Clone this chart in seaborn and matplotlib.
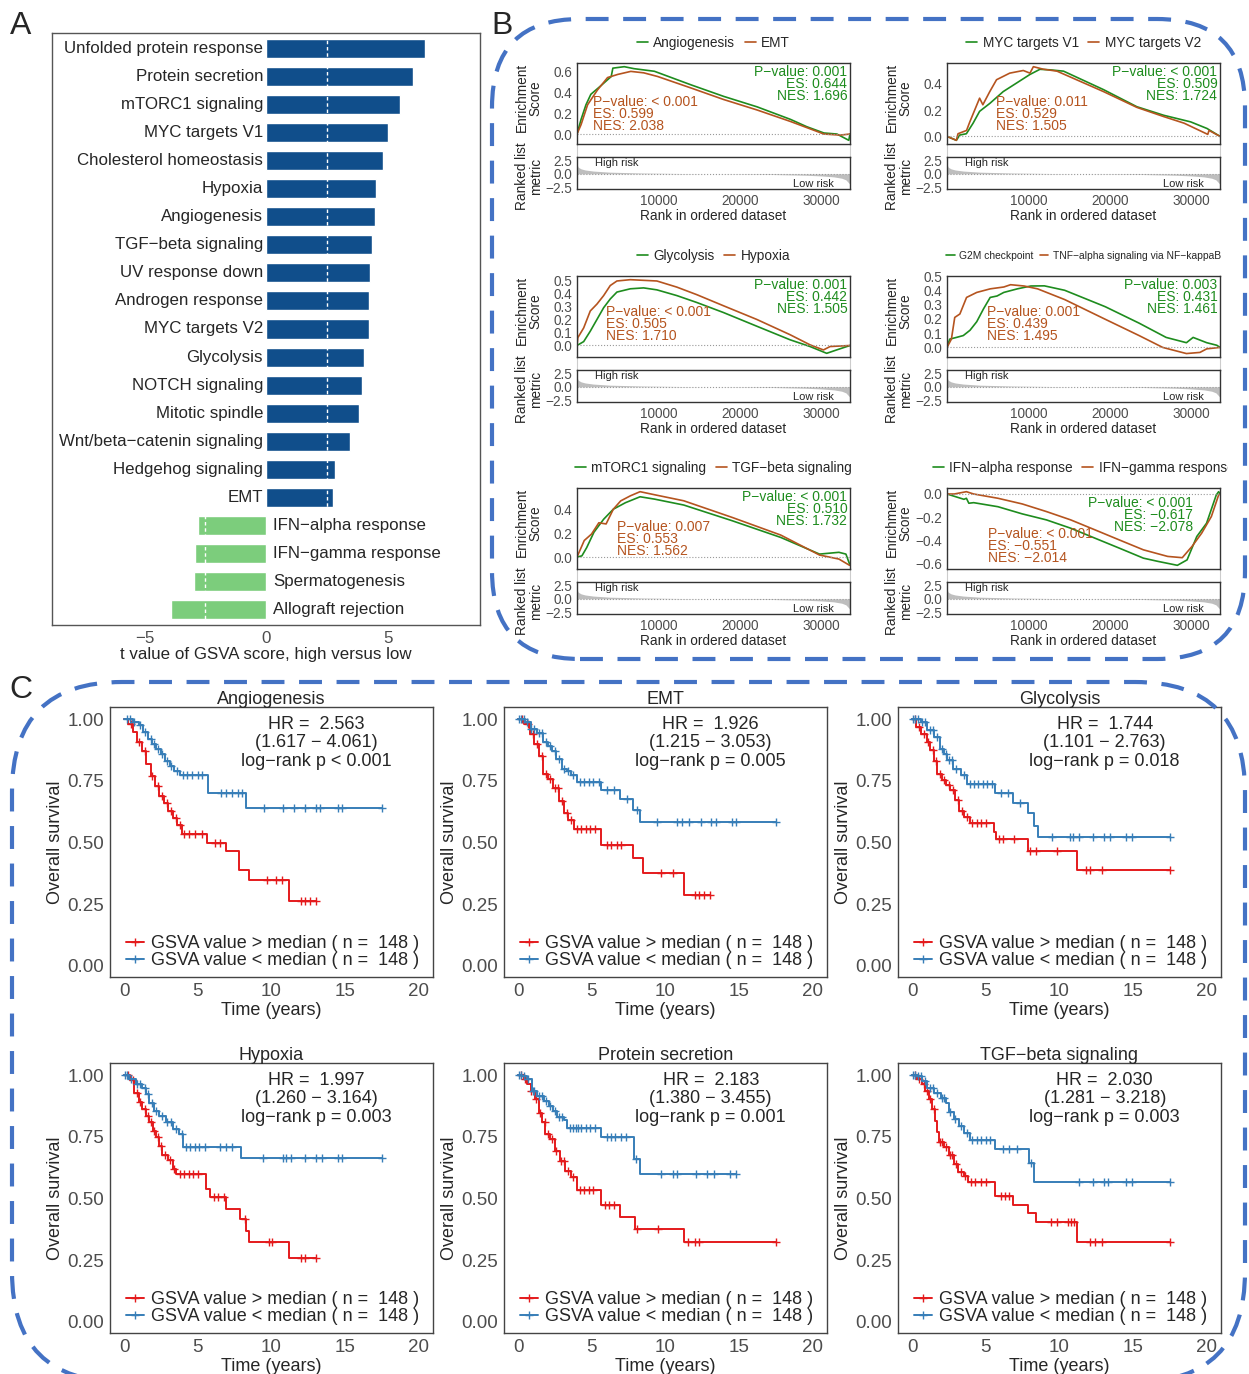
import numpy as np
import matplotlib
matplotlib.use("Agg")
import matplotlib.pyplot as plt
from matplotlib.patches import FancyBboxPatch
from matplotlib.lines import Line2D
from matplotlib.transforms import Bbox
import seaborn as sns

W, H = 1249, 1374

# ---------------- panel A: t values of GSVA score ----------------
pathways = ["Unfolded protein response", "Protein secretion", "mTORC1 signaling",
            "MYC targets V1", "Cholesterol homeostasis", "Hypoxia", "Angiogenesis",
            "TGF\u2212beta signaling", "UV response down", "Androgen response",
            "MYC targets V2", "Glycolysis", "NOTCH signaling", "Mitotic spindle",
            "Wnt/beta\u2212catenin signaling", "Hedgehog signaling", "EMT",
            "IFN\u2212alpha response", "IFN\u2212gamma response", "Spermatogenesis",
            "Allograft rejection"]
t_values = [6.52, 6.04, 5.49, 5.00, 4.82, 4.51, 4.47, 4.34, 4.26, 4.22, 4.22,
            4.04, 3.96, 3.81, 3.44, 2.84, 2.75, -2.79, -2.93, -2.97, -3.90]

# ---------------- panel B: running enrichment scores ----------------
angio_rank = [0, 500, 1100, 1700, 2900, 4200, 4400, 5800, 7000, 9500, 14000, 18000, 22100, 26200, 28200, 30300, 31900, 33350, 33500]
angio_es = [0, 0.14, 0.28, 0.38, 0.46, 0.55, 0.63, 0.644, 0.625, 0.60, 0.47, 0.36, 0.26, 0.14, 0.07, 0.01, 0.0, -0.06, 0.0]
emt_rank = [0, 500, 1300, 2500, 3750, 5000, 6600, 8200, 9900, 14000, 18000, 22100, 26200, 30300, 32300, 33500]
emt_es = [0, 0.09, 0.28, 0.42, 0.54, 0.57, 0.599, 0.585, 0.55, 0.44, 0.33, 0.23, 0.12, 0.0, -0.01, 0.0]

mycv1_rank = [0, 1150, 1560, 2380, 3200, 4000, 5250, 6900, 8540, 10180, 11400, 12650, 14300, 19200, 23300, 26600, 29900, 31900, 33500]
mycv1_es = [0, -0.03, 0.01, 0.02, 0.10, 0.19, 0.25, 0.34, 0.405, 0.47, 0.509, 0.505, 0.495, 0.355, 0.225, 0.16, 0.11, 0.06, 0.0]
mycv2_rank = [0, 1150, 1350, 2400, 2800, 4000, 4400, 5250, 6080, 7700, 9360, 10180, 10600, 11800, 13500, 19200, 23300, 26600, 29100, 32000, 32150, 33500]
mycv2_es = [0, -0.03, 0.02, 0.045, 0.11, 0.29, 0.24, 0.34, 0.43, 0.48, 0.50, 0.48, 0.529, 0.51, 0.495, 0.34, 0.22, 0.15, 0.10, 0.015, 0.045, 0.0]

glyco_rank = [0, 820, 1630, 2450, 3270, 4080, 4900, 6540, 8170, 9800, 12250, 14700, 17970, 22060, 26140, 28600, 30640, 31860, 33500]
glyco_es = [0, 0.03, 0.11, 0.20, 0.29, 0.357, 0.41, 0.435, 0.442, 0.427, 0.383, 0.33, 0.253, 0.148, 0.044, -0.008, -0.06, -0.034, 0.0]
hypoxia_rank = [0, 100, 820, 1630, 2450, 3270, 4080, 4900, 6540, 8170, 9800, 12250, 14700, 17970, 22060, 26140, 28600, 30240, 31050, 33500]
hypoxia_es = [0, 0.06, 0.135, 0.265, 0.318, 0.383, 0.46, 0.495, 0.505, 0.50, 0.495, 0.448, 0.39, 0.305, 0.20, 0.083, 0.005, -0.034, -0.008, 0.0]

g2m_rank = [0, 330, 1160, 2000, 2820, 3650, 4480, 5300, 6140, 6970, 8630, 10290, 11950, 14440, 19420, 23570, 26890, 29380, 30200, 31870, 33110, 33500]
g2m_es = [0, 0.058, 0.07, 0.083, 0.12, 0.18, 0.27, 0.35, 0.36, 0.385, 0.41, 0.43, 0.431, 0.40, 0.285, 0.17, 0.07, 0.033, 0.07, 0.033, 0.015, 0.0]
tnfa_rank = [0, 540, 950, 1580, 2400, 3650, 5300, 6970, 7800, 9460, 11120, 14440, 19420, 23570, 26470, 29380, 31040, 31870, 33500]
tnfa_es = [0, 0.058, 0.21, 0.234, 0.35, 0.385, 0.41, 0.423, 0.439, 0.43, 0.41, 0.335, 0.197, 0.083, 0.0, -0.043, -0.035, -0.01, 0.0]

mtorc1_rank = [0, 600, 1190, 2080, 3270, 4460, 5950, 7740, 9520, 13100, 19050, 25000, 29760, 32140, 33000, 33450]
mtorc1_es = [0, 0.01, 0.08, 0.21, 0.32, 0.405, 0.46, 0.51, 0.49, 0.44, 0.307, 0.166, 0.025, 0.04, 0.025, -0.06]
tgfb_rank = [0, 890, 1790, 2680, 3570, 4460, 5360, 6550, 7740, 9520, 13100, 19050, 25000, 29760, 32140, 33450]
tgfb_es = [0, 0.14, 0.195, 0.29, 0.28, 0.405, 0.475, 0.518, 0.553, 0.527, 0.476, 0.335, 0.186, 0.017, -0.017, -0.07]

ifna_rank = [0, 2080, 2380, 2680, 3270, 6250, 9230, 12200, 15180, 18150, 21130, 24100, 25890, 28270, 29460, 30650, 31850, 33040, 33330, 33500]
ifna_es = [0, -0.046, -0.037, -0.08, -0.075, -0.11, -0.172, -0.224, -0.296, -0.382, -0.468, -0.555, -0.583, -0.617, -0.57, -0.368, -0.253, -0.009, 0.02, 0.0]
ifng_rank = [0, 890, 2380, 3270, 6250, 9230, 12200, 15180, 18150, 21130, 24100, 27080, 28870, 30060, 31250, 32440, 33330, 33500]
ifng_es = [0, 0.0, 0.02, 0.0, -0.037, -0.086, -0.152, -0.224, -0.31, -0.397, -0.483, -0.54, -0.551, -0.454, -0.339, -0.195, -0.009, 0.0]

# ranked list metric (same ranked list for all six plots)
metric_rank = [0, 150, 500, 1000, 2000, 4000, 8000, 12000, 16000, 20000, 24000, 28000, 30000, 31500, 32500, 33000, 33500]
metric_val = [1.7, 1.2, 0.9, 0.7, 0.5, 0.3, 0.15, 0.07, 0.0, -0.05, -0.12, -0.25, -0.38, -0.55, -0.8, -1.1, -1.9]

gsea_sets = [("Angiogenesis", "EMT"), ("MYC targets V1", "MYC targets V2"),
             ("Glycolysis", "Hypoxia"), ("G2M checkpoint", "TNF\u2212alpha signaling via NF\u2212kappaB"),
             ("mTORC1 signaling", "TGF\u2212beta signaling"), ("IFN\u2212alpha response", "IFN\u2212gamma response")]
gsea_curves = [((angio_rank, angio_es), (emt_rank, emt_es)),
               ((mycv1_rank, mycv1_es), (mycv2_rank, mycv2_es)),
               ((glyco_rank, glyco_es), (hypoxia_rank, hypoxia_es)),
               ((g2m_rank, g2m_es), (tnfa_rank, tnfa_es)),
               ((mtorc1_rank, mtorc1_es), (tgfb_rank, tgfb_es)),
               ((ifna_rank, ifna_es), (ifng_rank, ifng_es))]
gsea_green_txt = ["P\u2212value: 0.001\nES: 0.644\nNES: 1.696",
                  "P\u2212value: < 0.001\nES: 0.509\nNES: 1.724",
                  "P\u2212value: 0.001\nES: 0.442\nNES: 1.505",
                  "P\u2212value: 0.003\nES: 0.431\nNES: 1.461",
                  "P\u2212value: < 0.001\nES: 0.510\nNES: 1.732",
                  "P\u2212value: < 0.001\nES: \u22120.617\nNES: \u22122.078"]
gsea_brown_txt = ["P\u2212value: < 0.001\nES: 0.599\nNES: 2.038",
                  "P\u2212value: 0.011\nES: 0.529\nNES: 1.505",
                  "P\u2212value: < 0.001\nES: 0.505\nNES: 1.710",
                  "P\u2212value: 0.001\nES: 0.439\nNES: 1.495",
                  "P\u2212value: 0.007\nES: 0.553\nNES: 1.562",
                  "P\u2212value: < 0.001\nES: \u22120.551\nNES: \u22122.014"]
gsea_yticks = [[0, 0.2, 0.4, 0.6], [0, 0.2, 0.4], [0, 0.1, 0.2, 0.3, 0.4, 0.5],
               [0, 0.1, 0.2, 0.3, 0.4, 0.5], [0, 0.2, 0.4], [0, -0.2, -0.4, -0.6]]

# ---------------- panel C: Kaplan-Meier curves ----------------
# hi = GSVA value > median, lo = GSVA value < median; *_t event times, *_s survival, *_c censored times
angio_hi_t = [0, 0.3, 0.6, 0.9, 1.2, 1.5, 1.8, 2.1, 2.4, 2.7, 3.0, 3.3, 3.6, 3.9, 5.6, 6.9, 7.8, 8.5, 11.2]
angio_hi_s = [1.0, 0.98, 0.95, 0.91, 0.87, 0.82, 0.77, 0.73, 0.69, 0.66, 0.63, 0.60, 0.57, 0.535, 0.50, 0.468, 0.388, 0.347, 0.262]
angio_hi_c = [0.5, 1.0, 1.4, 1.9, 2.3, 2.6, 2.9, 3.2, 3.5, 3.8, 4.1, 4.4, 4.8, 5.3, 6.2, 6.5, 9.7, 10.3, 10.7, 12.0, 12.3, 12.6, 13.0]
angio_lo_t = [0, 0.6, 1.0, 1.3, 1.6, 1.9, 2.2, 2.5, 2.8, 3.1, 3.4, 3.8, 5.7, 8.3]
angio_lo_s = [1.0, 0.99, 0.975, 0.95, 0.92, 0.90, 0.88, 0.86, 0.83, 0.81, 0.79, 0.775, 0.70, 0.641]
angio_lo_c = [0.2, 0.4, 0.7, 1.1, 1.4, 1.8, 2.0, 2.3, 2.6, 2.9, 3.2, 3.6, 4.0, 4.3, 4.6, 5.0, 5.3, 6.6, 6.9, 7.3, 7.7, 8.0, 9.5, 10.8, 11.5, 12.3, 13.0, 13.3, 14.5, 14.8, 17.5]

emt_hi_t = [0, 0.4, 0.8, 1.1, 1.4, 1.7, 2.0, 2.4, 2.8, 3.1, 3.4, 3.8, 5.6, 7.8, 8.45, 11.25]
emt_hi_s = [1.0, 0.98, 0.94, 0.90, 0.85, 0.78, 0.76, 0.72, 0.67, 0.62, 0.59, 0.556, 0.49, 0.436, 0.378, 0.287]
emt_hi_c = [0.3, 0.7, 1.0, 1.3, 1.6, 1.9, 2.2, 2.5, 2.7, 3.0, 3.3, 3.6, 4.0, 4.3, 4.6, 4.9, 5.2, 6.0, 6.3, 6.7, 7.0, 9.7, 10.5, 12.0, 12.3, 12.6, 13.0]
emt_lo_t = [0, 0.5, 0.9, 1.3, 1.7, 2.0, 2.3, 2.6, 3.0, 3.3, 3.6, 4.0, 5.6, 6.9, 7.8, 8.3]
emt_lo_s = [1.0, 0.99, 0.96, 0.945, 0.91, 0.89, 0.87, 0.84, 0.80, 0.79, 0.775, 0.744, 0.714, 0.678, 0.633, 0.583]
emt_lo_c = [0.1, 0.2, 0.4, 0.6, 0.9, 1.1, 1.4, 1.6, 1.9, 2.2, 2.5, 2.8, 3.1, 3.4, 3.7, 4.2, 4.5, 4.8, 5.1, 5.5, 6.0, 6.5, 7.4, 8.1, 9.4, 10.8, 11.1, 11.6, 12.4, 13.1, 13.4, 14.5, 14.8, 17.5]

glyco_hi_t = [0, 0.3, 0.6, 1.0, 1.25, 1.5, 1.7, 2.0, 2.3, 2.6, 2.9, 3.2, 3.5, 3.9, 5.55, 5.7, 7.85, 11.2]
glyco_hi_s = [1.0, 0.97, 0.94, 0.91, 0.875, 0.83, 0.78, 0.755, 0.735, 0.713, 0.672, 0.63, 0.605, 0.578, 0.544, 0.513, 0.465, 0.388]
glyco_hi_c = [0.2, 0.5, 0.8, 1.1, 1.4, 1.6, 1.9, 2.2, 2.5, 2.8, 3.1, 3.4, 3.7, 4.1, 4.4, 4.7, 5.0, 5.9, 6.2, 6.9, 8.0, 8.4, 9.8, 11.8, 12.1, 12.9, 17.5]
glyco_lo_t = [0, 0.6, 1.0, 1.5, 1.9, 2.2, 2.4, 2.8, 3.3, 3.7, 5.6, 6.85, 7.85, 8.3, 8.55]
glyco_lo_s = [1.0, 0.99, 0.957, 0.93, 0.88, 0.86, 0.835, 0.80, 0.776, 0.738, 0.702, 0.662, 0.619, 0.567, 0.524]
glyco_lo_c = [0.1, 0.2, 0.4, 0.7, 0.9, 1.2, 1.4, 1.7, 2.0, 2.3, 2.5, 2.7, 3.0, 3.5, 3.9, 4.2, 4.5, 4.8, 5.1, 5.4, 6.0, 6.5, 7.3, 9.5, 10.7, 10.9, 11.3, 12.3, 13.0, 13.4, 14.5, 14.9, 17.5]

hypoxia_hi_t = [0, 0.4, 0.7, 1.0, 1.25, 1.5, 1.7, 1.95, 2.2, 2.4, 2.6, 2.95, 3.3, 3.5, 5.57, 5.8, 6.93, 7.84, 8.3, 8.48, 11.18]
hypoxia_hi_s = [1.0, 0.98, 0.93, 0.89, 0.862, 0.836, 0.809, 0.775, 0.749, 0.715, 0.675, 0.655, 0.62, 0.598, 0.539, 0.505, 0.458, 0.418, 0.37, 0.326, 0.26]
hypoxia_hi_c = [0.3, 0.6, 0.9, 1.1, 1.4, 1.6, 1.8, 2.0, 2.3, 2.5, 2.8, 3.1, 3.4, 3.8, 4.1, 4.4, 4.7, 5.0, 6.1, 6.4, 6.8, 8.2, 9.8, 10.0, 12.0, 12.3, 13.0]
hypoxia_lo_t = [0, 0.35, 0.8, 1.25, 1.5, 1.7, 2.05, 2.4, 2.85, 3.3, 3.75, 4.0, 7.9]
hypoxia_lo_s = [1.0, 0.984, 0.964, 0.95, 0.923, 0.889, 0.856, 0.836, 0.809, 0.782, 0.761, 0.71, 0.664]
hypoxia_lo_c = [0.1, 0.2, 0.5, 0.9, 1.1, 1.4, 1.6, 1.9, 2.2, 2.6, 2.9, 3.2, 3.5, 3.9, 4.2, 4.5, 4.8, 5.1, 5.5, 6.5, 6.9, 7.3, 9.4, 10.8, 11.0, 11.3, 12.3, 13.0, 13.4, 14.5, 14.8, 17.5]

protein_hi_t = [0, 0.4, 0.6, 0.85, 1.15, 1.4, 1.6, 1.85, 2.2, 2.5, 2.85, 3.2, 3.6, 4.0, 5.6, 6.9, 7.9, 11.25]
protein_hi_s = [1.0, 0.984, 0.964, 0.937, 0.903, 0.849, 0.809, 0.762, 0.742, 0.695, 0.654, 0.614, 0.587, 0.533, 0.474, 0.425, 0.377, 0.326]
protein_hi_c = [0.2, 0.5, 0.9, 1.2, 1.5, 1.8, 2.0, 2.3, 2.6, 2.9, 3.1, 3.4, 3.7, 4.2, 4.5, 4.8, 5.1, 5.9, 6.2, 6.5, 8.1, 9.5, 11.5, 12.0, 12.3, 17.5]
protein_lo_t = [0, 0.3, 0.6, 0.95, 1.3, 1.75, 2.1, 2.4, 2.65, 3.1, 3.3, 5.6, 7.85, 8.3]
protein_lo_s = [1.0, 0.997, 0.984, 0.937, 0.916, 0.896, 0.876, 0.856, 0.829, 0.818, 0.786, 0.748, 0.66, 0.60]
protein_lo_c = [0.1, 0.2, 0.4, 0.7, 1.0, 1.1, 1.4, 1.6, 1.9, 2.2, 2.5, 2.8, 3.0, 3.5, 3.7, 3.9, 4.1, 4.3, 4.6, 4.9, 5.2, 6.0, 6.3, 6.6, 7.0, 7.3, 8.0, 9.7, 10.5, 10.8, 12.1, 12.8, 13.3, 14.4, 14.8]

tgfb_hi_t = [0, 0.35, 0.7, 0.9, 1.13, 1.36, 1.59, 1.7, 1.81, 2.15, 2.5, 2.85, 3.15, 3.5, 3.8, 5.6, 6.86, 7.86, 8.43, 11.17]
tgfb_hi_s = [1.0, 0.984, 0.964, 0.937, 0.903, 0.863, 0.816, 0.77, 0.728, 0.708, 0.675, 0.64, 0.606, 0.593, 0.566, 0.512, 0.476, 0.441, 0.404, 0.326]
tgfb_hi_c = [0.2, 0.5, 0.8, 1.0, 1.2, 1.5, 1.9, 2.0, 2.3, 2.6, 2.7, 3.0, 3.3, 3.6, 4.0, 4.3, 4.7, 5.0, 6.0, 6.3, 6.6, 9.4, 9.8, 10.6, 10.8, 11.0, 12.1, 12.4, 12.9, 17.5]
tgfb_lo_t = [0, 0.35, 0.7, 1.0, 1.5, 1.95, 2.3, 2.5, 2.85, 3.2, 3.5, 3.95, 5.6, 7.9, 8.3]
tgfb_lo_s = [1.0, 0.997, 0.977, 0.95, 0.93, 0.91, 0.889, 0.85, 0.822, 0.795, 0.768, 0.737, 0.70, 0.643, 0.566]
tgfb_lo_c = [0.1, 0.2, 0.4, 0.6, 0.9, 1.2, 1.4, 1.7, 2.0, 2.2, 2.6, 2.9, 3.3, 3.7, 4.1, 4.4, 4.7, 5.0, 5.3, 6.2, 6.6, 7.1, 8.1, 11.3, 12.3, 13.0, 13.3, 14.5, 14.9, 17.5]

km_titles = ["Angiogenesis", "EMT", "Glycolysis", "Hypoxia", "Protein secretion", "TGF\u2212beta signaling"]
km_hr = ["2.563", "1.926", "1.744", "1.997", "2.183", "2.030"]
km_ci = ["(1.617 \u2212 4.061)", "(1.215 \u2212 3.053)", "(1.101 \u2212 2.763)",
         "(1.260 \u2212 3.164)", "(1.380 \u2212 3.455)", "(1.281 \u2212 3.218)"]
km_p = ["< 0.001", "= 0.005", "= 0.018", "= 0.003", "= 0.001", "= 0.003"]
km_curves = [
    (angio_hi_t, angio_hi_s, angio_hi_c, angio_lo_t, angio_lo_s, angio_lo_c),
    (emt_hi_t, emt_hi_s, emt_hi_c, emt_lo_t, emt_lo_s, emt_lo_c),
    (glyco_hi_t, glyco_hi_s, glyco_hi_c, glyco_lo_t, glyco_lo_s, glyco_lo_c),
    (hypoxia_hi_t, hypoxia_hi_s, hypoxia_hi_c, hypoxia_lo_t, hypoxia_lo_s, hypoxia_lo_c),
    (protein_hi_t, protein_hi_s, protein_hi_c, protein_lo_t, protein_lo_s, protein_lo_c),
    (tgfb_hi_t, tgfb_hi_s, tgfb_hi_c, tgfb_lo_t, tgfb_lo_s, tgfb_lo_c),
]
n_hi, n_lo = 148, 148

# ---------------- style ----------------
sns.set_style("white")
plt.rcParams["font.family"] = ["Liberation Sans", "DejaVu Sans"]
plt.rcParams["axes.unicode_minus"] = True

GREEN, BROWN = "#1E8C1E", "#B5541F"
RED, BLUE = "#E41A1C", "#377EB8"
GRAYTXT = "#4D4D4D"
SPINE = "#333333"

fig = plt.figure(figsize=(W / 100, H / 100), dpi=100)


def px_axes(left, top, w, h):
    return fig.add_axes([left / W, 1 - (top + h) / H, w / W, h / H])


def frame(ax, color=SPINE, lw=1.0):
    for sp in ax.spines.values():
        sp.set_visible(True)
        sp.set_color(color)
        sp.set_linewidth(lw)


# ---------------- panel A ----------------
axA = px_axes(52, 33, 428, 592)
bar_colors = ["#104E8B" if v > 0 else "#7CCD7C" for v in t_values]
sns.barplot(x=t_values, y=pathways, hue=pathways, palette=bar_colors, orient="h",
            width=0.68, saturation=1, legend=False, ax=axA)
axA.set_xlim(-8.8, 8.8)
axA.set_ylim(20.55, -0.55)
axA.set_yticks([])
axA.set_ylabel("")
axA.set_xticks([-5, 0, 5])
axA.tick_params(axis="x", labelsize=12.2, labelcolor=GRAYTXT, length=3, color=SPINE, pad=1)
axA.set_xlabel("t value of GSVA score, high versus low", fontsize=12.2, labelpad=1)
for i, (name, v) in enumerate(zip(pathways, t_values)):
    if v > 0:
        axA.text(-0.12, i, name, ha="right", va="center", fontsize=12.2, zorder=4)
    else:
        axA.text(0.3, i, name, ha="left", va="center", fontsize=12.2, zorder=4)
for xv in (2.5, -2.5):
    axA.axvline(xv, color="white", ls=(0, (2.5, 2)), lw=1, zorder=2)
frame(axA, "#555555")

# ---------------- panel B ----------------
col_left = [577, 947]
row_top = [63, 276, 488]
clip_right = [858, 1228]
green_pos = [(0.99, 0.98), (0.99, 0.98), (0.99, 0.98), (0.99, 0.98), (0.99, 0.98), (0.90, 0.90)]
brown_pos = [(0.06, 0.6), (0.18, 0.6), (0.106, 0.64), (0.147, 0.64), (0.147, 0.61), (0.15, 0.52)]
legend_fs = [9.8, 9.8, 9.8, 7.4, 9.8, 9.8]

for k in range(6):
    r, c = divmod(k, 2)
    left, top = col_left[c], row_top[r]
    ax_es = px_axes(left, top, 273, 81)
    ax_strip = px_axes(left, top + 81, 273, 13)
    ax_m = px_axes(left, top + 94, 273, 32)

    (g_r, g_e), (b_r, b_e) = gsea_curves[k]
    sns.lineplot(x=g_r, y=g_e, color=GREEN, lw=1.2, estimator=None, sort=False, ax=ax_es)
    sns.lineplot(x=b_r, y=b_e, color=BROWN, lw=1.2, estimator=None, sort=False, ax=ax_es)
    lo = min(min(g_e), min(b_e))
    hi = max(max(g_e), max(b_e))
    pad = 0.05 * (hi - lo)
    ax_es.set_ylim(lo - pad, hi + pad)
    ax_es.set_xlim(0, 33500)
    ax_es.axhline(0, color="#999999", ls=":", lw=0.8)
    ax_es.set_xticks([])
    ax_es.set_yticks(gsea_yticks[k])
    ax_es.set_yticklabels([f"{v:.1f}".replace("-", "\u2212") for v in gsea_yticks[k]])
    ax_es.tick_params(axis="y", labelsize=9.8, labelcolor=GRAYTXT, length=2.5, color=SPINE, pad=1)
    ax_es.set_ylabel("Enrichment\nScore", fontsize=9.8, linespacing=1.0)
    ax_es.yaxis.set_label_coords(-0.125, 0.57)
    frame(ax_es)
    gx, gy = green_pos[k]
    ax_es.text(gx, gy, gsea_green_txt[k], transform=ax_es.transAxes, ha="right", va="top",
               fontsize=10, color=GREEN, linespacing=0.82)
    bx, by = brown_pos[k]
    ax_es.text(bx, by, gsea_brown_txt[k], transform=ax_es.transAxes, ha="left", va="top",
               fontsize=10, color=BROWN, linespacing=0.82)

    handles = [Line2D([], [], color=GREEN, lw=1.2), Line2D([], [], color=BROWN, lw=1.2)]
    leg = ax_es.legend(handles, list(gsea_sets[k]), loc="center", bbox_to_anchor=(0.5, 1.25),
                       ncol=2, frameon=False, fontsize=legend_fs[k], handlelength=0.8,
                       handletextpad=0.4, columnspacing=0.7, borderaxespad=0)
    clip = Bbox.from_extents(0, 0, clip_right[c], H)
    for t in leg.get_texts():
        t.set_clip_box(clip)
        t.set_clip_on(True)

    ax_strip.set_xticks([])
    ax_strip.set_yticks([])
    frame(ax_strip, "#CCCCCC", 0.8)
    ax_strip.set_zorder(0)
    ax_es.set_zorder(1)
    ax_m.set_zorder(1)

    ax_m.fill_between(metric_rank, metric_val, 0, color="#BEBEBE", lw=0)
    ax_m.axhline(0, color="#999999", ls=":", lw=0.8)
    ax_m.set_xlim(0, 33500)
    ax_m.set_ylim(-2.75, 3.05)
    ax_m.set_yticks([2.5, 0, -2.5])
    ax_m.set_yticklabels(["2.5", "0.0", "\u22122.5"])
    ax_m.set_xticks([10000, 20000, 30000])
    ax_m.tick_params(labelsize=9.8, labelcolor=GRAYTXT, length=2.5, color=SPINE, pad=1)
    ax_m.set_xlabel("Rank in ordered dataset", fontsize=9.8, labelpad=1)
    ax_m.set_ylabel("Ranked list\nmetric", fontsize=9.8, linespacing=1.0)
    ax_m.yaxis.set_label_coords(-0.125, 0.4)
    ax_m.text(0.065, 0.8, "High risk", transform=ax_m.transAxes, fontsize=8, va="center")
    ax_m.text(0.94, 0.17, "Low risk", transform=ax_m.transAxes, fontsize=8, va="center", ha="right")
    frame(ax_m)

# ---------------- panel C ----------------
km_left = [110, 504, 898]
km_top = [707, 1063]


def km_draw(ax, t, s, cens, color):
    t = np.asarray(t)
    s = np.asarray(s)
    end = max(max(cens), t[-1])
    xs = np.append(t, end)
    ys = np.append(s, s[-1])
    sns.lineplot(x=xs, y=ys, drawstyle="steps-post", color=color, lw=1.4,
                 estimator=None, sort=False, ax=ax)
    idx = np.searchsorted(t, cens, side="right") - 1
    ax.plot(cens, s[idx], ls="none", marker="+", color=color, ms=6, mew=1.0)


for k in range(6):
    r, c = divmod(k, 3)
    ax = px_axes(km_left[c], km_top[r], 323, 270)
    hi_t, hi_s, hi_c, lo_t, lo_s, lo_c = km_curves[k]
    km_draw(ax, hi_t, hi_s, hi_c, RED)
    km_draw(ax, lo_t, lo_s, lo_c, BLUE)
    ax.set_xlim(-0.95, 20.95)
    ax.set_ylim(-0.045, 1.05)
    ax.set_xticks([0, 5, 10, 15, 20])
    ax.set_yticks([0, 0.25, 0.5, 0.75, 1.0])
    ax.set_yticklabels(["0.00", "0.25", "0.50", "0.75", "1.00"])
    ax.tick_params(labelsize=13.5, labelcolor=GRAYTXT, length=3, color=SPINE, pad=1)
    ax.set_xlabel("Time (years)", fontsize=13, labelpad=2)
    ax.set_ylabel("Overall survival", fontsize=13, labelpad=3)
    ax.set_title(km_titles[k], fontsize=13, pad=2)
    frame(ax, "#444444")
    ax.text(0.64, 0.965, f"HR =  {km_hr[k]}\n{km_ci[k]}\nlog\u2212rank p {km_p[k]}",
            transform=ax.transAxes, ha="center", va="top", fontsize=13, linespacing=1.08)
    handles = [Line2D([], [], color=RED, lw=1.4, marker="+", ms=6),
               Line2D([], [], color=BLUE, lw=1.4, marker="+", ms=6)]
    labels = [f"GSVA value > median ( n =  {n_hi} )", f"GSVA value < median ( n =  {n_lo} )"]
    ax.legend(handles, labels, loc="lower left", bbox_to_anchor=(0.015, -0.012), frameon=False,
              fontsize=13, handlelength=1.0, handletextpad=0.4, labelspacing=0.0,
              borderaxespad=0.2)

# ---------------- panel letters and dashed boxes ----------------
fig.text(21 / W, 1 - 26 / H, "A", fontsize=23, va="center", ha="center")
fig.text(502 / W, 1 - 26 / H, "B", fontsize=23, va="center", ha="center")
fig.text(21 / W, 1 - 690 / H, "C", fontsize=23, va="center", ha="center")

ax_bg = fig.add_axes([0, 0, 1, 1], zorder=10)
ax_bg.set_xlim(0, W)
ax_bg.set_ylim(0, H)
ax_bg.axis("off")
ax_bg.patch.set_visible(False)
box_b = FancyBboxPatch((492, H - 659), 753, 640, boxstyle="round,pad=0,rounding_size=88",
                       fill=False, ec="#4472C4", lw=3, ls=(0, (5.5, 3.5)))
box_c = FancyBboxPatch((12, H - 1382), 1233, 700, boxstyle="round,pad=0,rounding_size=110",
                       fill=False, ec="#4472C4", lw=3, ls=(0, (5.5, 3.5)))
ax_bg.add_patch(box_b)
ax_bg.add_patch(box_c)

fig.savefig("out.png", dpi=100)
